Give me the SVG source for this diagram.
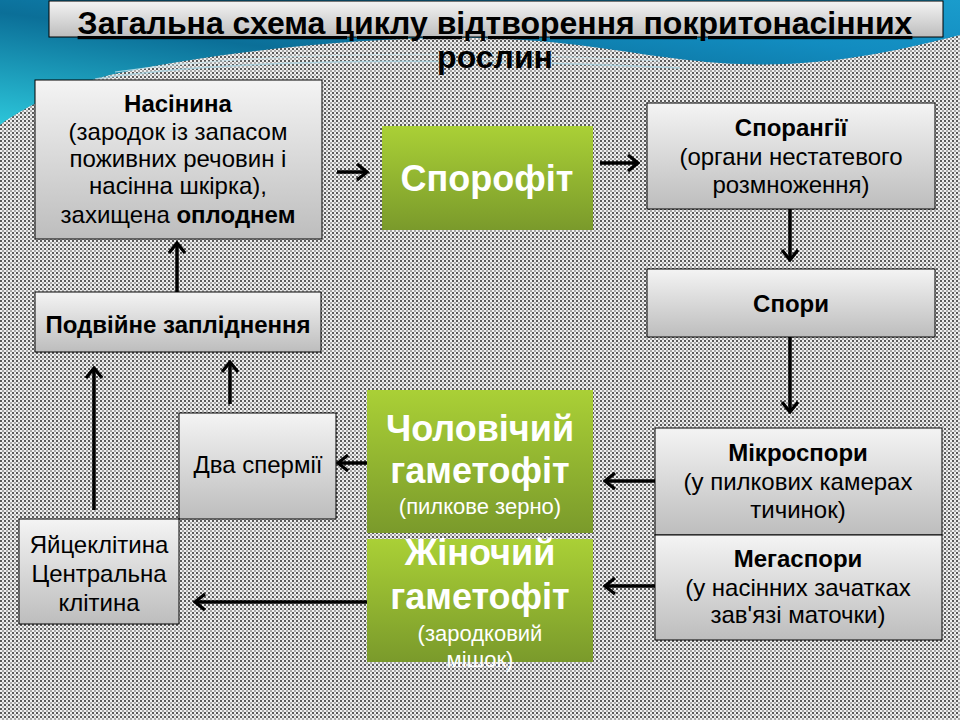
<svg xmlns="http://www.w3.org/2000/svg" width="960" height="720" viewBox="0 0 960 720">
  <defs>
    <pattern id="hatch" x="0" y="0" width="4" height="4" patternUnits="userSpaceOnUse">
      <rect width="4" height="4" fill="#eeeeee"/>
      <rect x="0" y="0" width="2" height="2" fill="#5a5a5a"/>
      <rect x="2" y="2" width="2" height="2" fill="#a8a8a8"/>
    </pattern>
    <linearGradient id="gBlue" x1="0" y1="1" x2="1" y2="0">
      <stop offset="0" stop-color="#2cc6da"/>
      <stop offset="0.45" stop-color="#0b6f98"/>
      <stop offset="0.75" stop-color="#128cc0"/>
      <stop offset="1" stop-color="#1a9ccc"/>
    </linearGradient>
    <linearGradient id="gGray" x1="0" y1="0" x2="0" y2="1">
      <stop offset="0" stop-color="#f4f4f4"/>
      <stop offset="1" stop-color="#bdbdbd"/>
    </linearGradient>
    <linearGradient id="gGreen" x1="0" y1="0" x2="0" y2="1">
      <stop offset="0" stop-color="#aad036"/>
      <stop offset="1" stop-color="#7a9a2b"/>
    </linearGradient>
    <marker id="ah" viewBox="0 0 14 20" refX="12" refY="10" markerWidth="14" markerHeight="20" markerUnits="userSpaceOnUse" orient="auto">
      <path d="M2,2 L12,10 L2,18" fill="none" stroke="#000" stroke-width="3.2"/>
    </marker>
    <style>
      .box { fill: url(#gGray); stroke: #000; stroke-width: 1; }
      .gbox { fill: url(#gGreen); }
      .t { font-family: "Liberation Sans", Arial, sans-serif; font-size: 24px; fill: #000; text-anchor: middle; }
      .b { font-weight: bold; }
      .w { fill: #ffffff; }
      .big { font-size: 36px; font-weight: bold; }
      .sub { font-size: 22px; }
      .arr { stroke: #000; stroke-width: 3.5; fill: none; marker-end: url(#ah); }
      .title { font-family: "Liberation Sans", Arial, sans-serif; font-size: 32px; font-weight: bold; fill: #000; text-anchor: middle; }
    </style>
  </defs>

  <!-- background -->
  <rect x="0" y="0" width="960" height="720" fill="url(#hatch)"/>
  <path d="M0,0 H960 V35 C900,50 820,70 720,63 C640,57 580,40 480,38 C350,36 200,55 110,75 C60,88 20,110 0,125 Z" fill="url(#gBlue)"/>
  <path d="M95,79 C250,57 450,58 680,68" fill="none" stroke="#a8d4e2" stroke-width="1.5" opacity="0.8"/>
  <path d="M115,72 C260,52 450,50 660,61" fill="none" stroke="#c8e6ee" stroke-width="1.2" opacity="0.8"/>

  <!-- title -->
  <g id="title">
    <rect x="49" y="1" width="894" height="36" class="box"/>
    <text x="495" y="34" class="title" text-decoration="underline">Загальна схема циклу відтворення покритонасінних</text>
    <text x="495" y="68" class="title">рослин</text>
  </g>

  <!-- connectors -->
  <g id="connectors">
    <path class="arr" d="M337,172 L367,172"/>
    <path class="arr" d="M600,163 L638,163"/>
    <path class="arr" d="M790,209 L790,260"/>
    <path class="arr" d="M790,337 L790,412"/>
    <path class="arr" d="M655,481 L605,481"/>
    <path class="arr" d="M655,586 L605,586"/>
    <path class="arr" d="M367,463 L338,463"/>
    <path class="arr" d="M367,602 L195,602"/>
    <path class="arr" d="M94,510 L94,368"/>
    <path class="arr" d="M230,404 L230,362"/>
    <path class="arr" d="M177,292 L177,243"/>
  </g>

  <g id="nasinyna">
    <rect x="35" y="80" width="287" height="159" class="box"/>
    <text class="t b" x="178" y="112">Насінина</text>
    <text class="t" x="178" y="140">(зародок із запасом</text>
    <text class="t" x="178" y="167">поживних речовин і</text>
    <text class="t" x="178" y="194">насінна шкірка),</text>
    <text class="t" x="178" y="223">захищена <tspan class="b">оплоднем</tspan></text>
  </g>

  <g id="sporofit">
    <rect x="382" y="126" width="211" height="104" class="gbox"/>
    <text class="t w big" x="487" y="191">Спорофіт</text>
  </g>

  <g id="sporangii">
    <rect x="647" y="103" width="288" height="106" class="box"/>
    <text class="t b" x="791" y="136">Спорангії</text>
    <text class="t" x="791" y="165">(органи нестатевого</text>
    <text class="t" x="791" y="193">розмноження)</text>
  </g>

  <g id="spory">
    <rect x="647" y="269" width="288" height="68" class="box"/>
    <text class="t b" x="791" y="312">Спори</text>
  </g>

  <g id="mikrospory">
    <rect x="655" y="428" width="287" height="107" class="box"/>
    <text class="t b" x="798" y="461">Мікроспори</text>
    <text class="t" x="798" y="490">(у пилкових камерах</text>
    <text class="t" x="798" y="518">тичинок)</text>
  </g>

  <g id="megaspory">
    <rect x="655" y="535" width="287" height="105" class="box"/>
    <text class="t b" x="798" y="567">Мегаспори</text>
    <text class="t" x="798" y="596">(у насінних зачатках</text>
    <text class="t" x="798" y="623">зав'язі маточки)</text>
  </g>

  <g id="cholovichyi">
    <rect x="367" y="390" width="226" height="143" class="gbox"/>
    <text class="t w big" x="480" y="441">Чоловічий</text>
    <text class="t w big" x="480" y="483">гаметофіт</text>
    <text class="t w sub" x="480" y="514">(пилкове зерно)</text>
  </g>

  <g id="zhinochyi">
    <rect x="367" y="539" width="226" height="123" class="gbox"/>
    <text class="t w big" x="480" y="565">Жіночий</text>
    <text class="t w big" x="480" y="609">гаметофіт</text>
    <text class="t w sub" x="480" y="641">(зародковий</text>
    <text class="t w sub" x="480" y="667">мішок)</text>
  </g>

  <g id="dva-spermii">
    <rect x="179" y="413" width="157" height="106" class="box"/>
    <text class="t" x="258" y="473">Два спермії</text>
  </g>

  <g id="yaitseklityna">
    <rect x="19" y="519" width="160" height="105" class="box"/>
    <text class="t" x="99" y="553">Яйцеклітина</text>
    <text class="t" x="99" y="582">Центральна</text>
    <text class="t" x="99" y="611">клітина</text>
  </g>

  <g id="podviine">
    <rect x="35" y="292" width="286" height="60" class="box"/>
    <text class="t b" x="178" y="333">Подвійне запліднення</text>
  </g>
</svg>
